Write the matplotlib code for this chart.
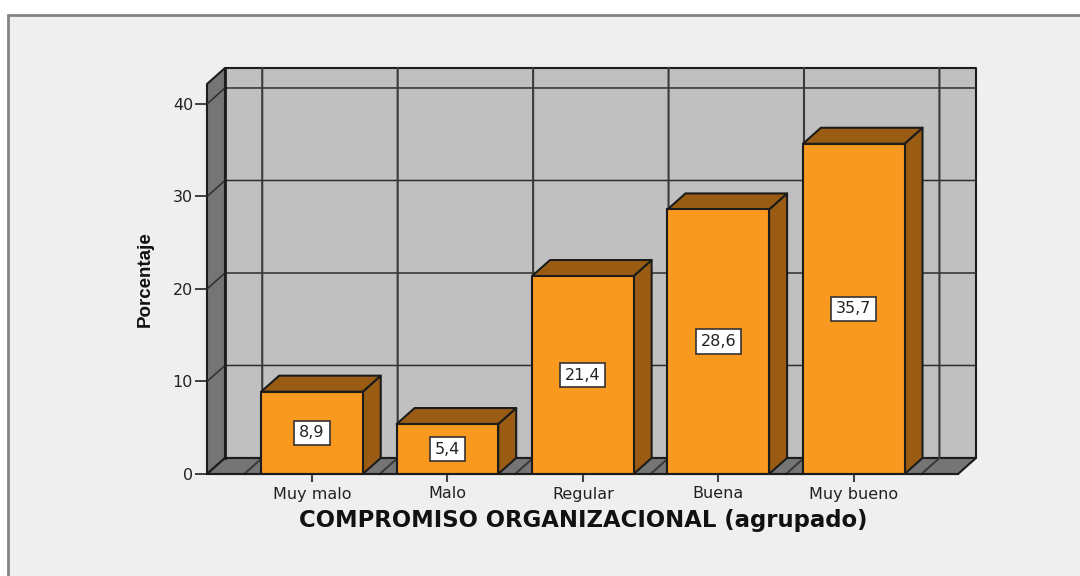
import matplotlib
matplotlib.use('Agg')
import matplotlib.pyplot as plt
from matplotlib.patches import Rectangle, Polygon

plt.rcParams['font.family'] = ['DejaVu Sans']

categories = ['Muy malo', 'Malo', 'Regular', 'Buena', 'Muy bueno']
values = [8.9, 5.4, 21.4, 28.6, 35.7]
value_labels = ['8,9', '5,4', '21,4', '28,6', '35,7']
y_ticks = [0, 10, 20, 30, 40]

W, H = 1080, 576
FRONT = '#fa991f'
SHADE = '#995c12'
WALL = '#c0c0c0'
FLOOR = '#757575'
PANEL = '#efefef'
LINE = '#1c1c1c'
GRID = '#2e2e2e'

# depth of the fake 3D box in data units
dx = 18 / 135.5
dy = 16 / 9.25
x_left = -0.775
x_right = 4.77
y_top = 42.16
bar_w = 0.75

fig = plt.figure(figsize=(W / 100, H / 100), dpi=100, facecolor='white')
fig.add_artist(Rectangle((8 / W, -0.01), 1.02 - 8 / W, 1.01 - 15 / H, transform=fig.transFigure,
                         facecolor=PANEL, edgecolor='#858585', linewidth=2, zorder=-1))

ax = fig.add_axes([207 / W, 1 - 474 / H, (976 - 207) / W, (474 - 68) / H])
ax.set_xlim(x_left, x_right + dx)
ax.set_ylim(0, y_top + dy)
ax.patch.set_visible(False)
for s in ax.spines.values():
    s.set_visible(False)


def face(pts, color, z, lw=1.5, ec=LINE):
    ax.add_patch(Polygon(pts, closed=True, facecolor=color, edgecolor=ec, linewidth=lw,
                         zorder=z, clip_on=False, joinstyle='round'))


# back wall, left wall, floor
face([(x_left + dx, dy), (x_right + dx, dy), (x_right + dx, y_top + dy), (x_left + dx, y_top + dy)], WALL, 1)
face([(x_left, 0), (x_left + dx, dy), (x_left + dx, y_top + dy), (x_left, y_top)], FLOOR, 1.1)
face([(x_left, 0), (x_right, 0), (x_right + dx, dy), (x_left + dx, dy)], FLOOR, 1.1)

# grid on the walls
for t in y_ticks[1:]:
    ax.plot([x_left, x_left + dx, x_right + dx], [t, t + dy, t + dy], color=GRID, lw=1.1, zorder=1.5, clip_on=False)
for i in range(len(categories) + 1):
    xb = i - 0.5
    ax.plot([xb, xb + dx, xb + dx], [0, dy, y_top + dy], color='#3a3a3a', lw=1.5, zorder=1.5, clip_on=False)
ax.plot([x_left + dx, x_left + dx], [dy, y_top + dy], color=LINE, lw=2, zorder=1.6, clip_on=False)

# bars
for i, v in enumerate(values):
    l, r = i - bar_w / 2, i + bar_w / 2
    z = 2 + i * 0.1
    face([(r, 0), (r + dx, dy), (r + dx, v + dy), (r, v)], SHADE, z)
    face([(l, v), (r, v), (r + dx, v + dy), (l + dx, v + dy)], SHADE, z)
ax.bar(range(len(values)), values, width=bar_w, color=FRONT, edgecolor=LINE, linewidth=1.5, zorder=3)

for i, v in enumerate(values):
    ax.text(i, v / 2, value_labels[i], ha='center', va='center', fontsize=11.5, color='#222222', zorder=5,
            bbox=dict(boxstyle='square,pad=0.3', facecolor='white', edgecolor='#333333', linewidth=1.2))

ax.plot([x_left, x_right], [0, 0], color=LINE, lw=1.5, zorder=4, clip_on=False)

ax.set_xticks(range(len(categories)))
ax.set_xticklabels(categories)
ax.set_yticks(y_ticks)
ax.tick_params(axis='x', length=6, width=1.5, color='#444444', labelsize=11.5, labelcolor='#222222', pad=3)
ax.tick_params(axis='y', length=9, width=1.2, color='#222222', labelsize=11.5, labelcolor='#222222', pad=1)

fig.text(583 / W, 1 - 521 / H, 'COMPROMISO ORGANIZACIONAL (agrupado)', ha='center', va='center',
         fontsize=16.4, fontweight='bold', color='#111111', family='DejaVu Sans')
fig.text(145 / W, 1 - 279 / H, 'Porcentaje', rotation=90, ha='center', va='center',
         fontsize=13.5, fontweight='bold', color='#111111', family='Liberation Sans')

fig.savefig('out.png', dpi=100, facecolor='white')
